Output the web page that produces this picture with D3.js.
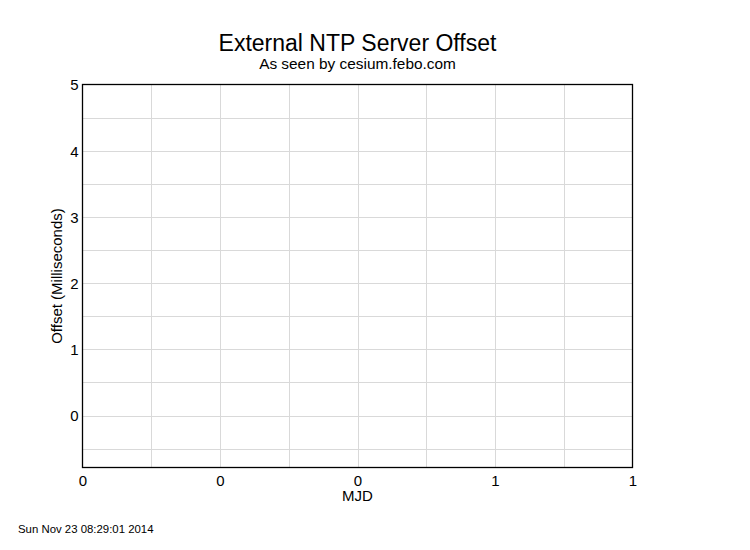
<!DOCTYPE html>
<html><head><meta charset="utf-8">
<script src="https://cdn.jsdelivr.net/npm/d3@7"></script>
<style>body{margin:0;background:#fff}svg{display:block}text{font-family:"Liberation Sans",Arial,sans-serif;fill:#000}</style>
</head><body>
<script>
const mjd = [];           // no data points in this chart
const offsets = [];
const yTicks = [0, 1, 2, 3, 4, 5];
const yGrid = [-0.5, 0, 0.5, 1, 1.5, 2, 2.5, 3, 3.5, 4, 4.5];
const xTicks = [0, 0.25, 0.5, 0.75, 1];
const xGrid = [0.125, 0.25, 0.375, 0.5, 0.625, 0.75, 0.875];
const xTickLabels = ["0", "0", "0", "1", "1"];

const W = 750, H = 550;
const m = {left: 82.5, right: 632.5, top: 84.5, bottom: 467.5};
const svg = d3.select("body").append("svg").attr("width", W).attr("height", H);
const x = d3.scaleLinear().domain([0, 1]).range([m.left, m.right]);
const y = d3.scaleLinear().domain([-0.785, 5]).range([m.bottom, m.top]);

svg.append("g").selectAll("line").data(yGrid).join("line")
  .attr("x1", m.left).attr("x2", m.right)
  .attr("y1", d => Math.round(y(d)) + 0.5).attr("y2", d => Math.round(y(d)) + 0.5)
  .attr("stroke", "#d9d9d9").attr("stroke-width", 1);
svg.append("g").selectAll("line").data(xGrid).join("line")
  .attr("y1", m.top).attr("y2", m.bottom)
  .attr("x1", d => Math.round(x(d)) + 0.5).attr("x2", d => Math.round(x(d)) + 0.5)
  .attr("stroke", "#d9d9d9").attr("stroke-width", 1);

svg.append("g").selectAll("circle").data(mjd.map((d,i)=>[d, offsets[i]])).join("circle")
  .attr("cx", d => x(d[0])).attr("cy", d => y(d[1])).attr("r", 2);

svg.append("rect").attr("x", m.left).attr("y", m.top)
  .attr("width", m.right - m.left).attr("height", m.bottom - m.top)
  .attr("fill", "none").attr("stroke", "#000").attr("stroke-width", 1.3);

const xAxis = d3.axisBottom(x).tickValues(xTicks).tickSize(0).tickPadding(0)
  .tickFormat((d, i) => xTickLabels[i]);
const gx = svg.append("g").attr("transform", `translate(0,${m.bottom})`).call(xAxis);
gx.select(".domain").remove();
gx.selectAll("text").attr("dy", 0).attr("y", 18).style("font-size", "15px")
  .style("font-family", '"Liberation Sans",Arial,sans-serif');

const yAxis = d3.axisLeft(y).tickValues(yTicks).tickSize(0).tickPadding(0)
  .tickFormat(d3.format("d"));
const gy = svg.append("g").attr("transform", `translate(${m.left},0)`).call(yAxis);
gy.select(".domain").remove();
gy.selectAll("text").attr("x", -4).attr("dy", "0.36em").style("font-size", "15px")
  .style("font-family", '"Liberation Sans",Arial,sans-serif');

svg.append("text").attr("x", 357.5).attr("y", 51).attr("text-anchor", "middle")
  .style("font-size", "23px").text("External NTP Server Offset");
svg.append("text").attr("x", 357.5).attr("y", 69).attr("text-anchor", "middle")
  .style("font-size", "15.4px").text("As seen by cesium.febo.com");
svg.append("text").attr("x", 357.5).attr("y", 501).attr("text-anchor", "middle")
  .style("font-size", "15px").text("MJD");
svg.append("text").attr("transform", "translate(62,276) rotate(-90)").attr("text-anchor", "middle")
  .style("font-size", "15px").text("Offset (Milliseconds)");
svg.append("text").attr("x", 18).attr("y", 533).style("font-size", "11.4px")
  .text("Sun Nov 23 08:29:01 2014");
</script>
</body></html>
